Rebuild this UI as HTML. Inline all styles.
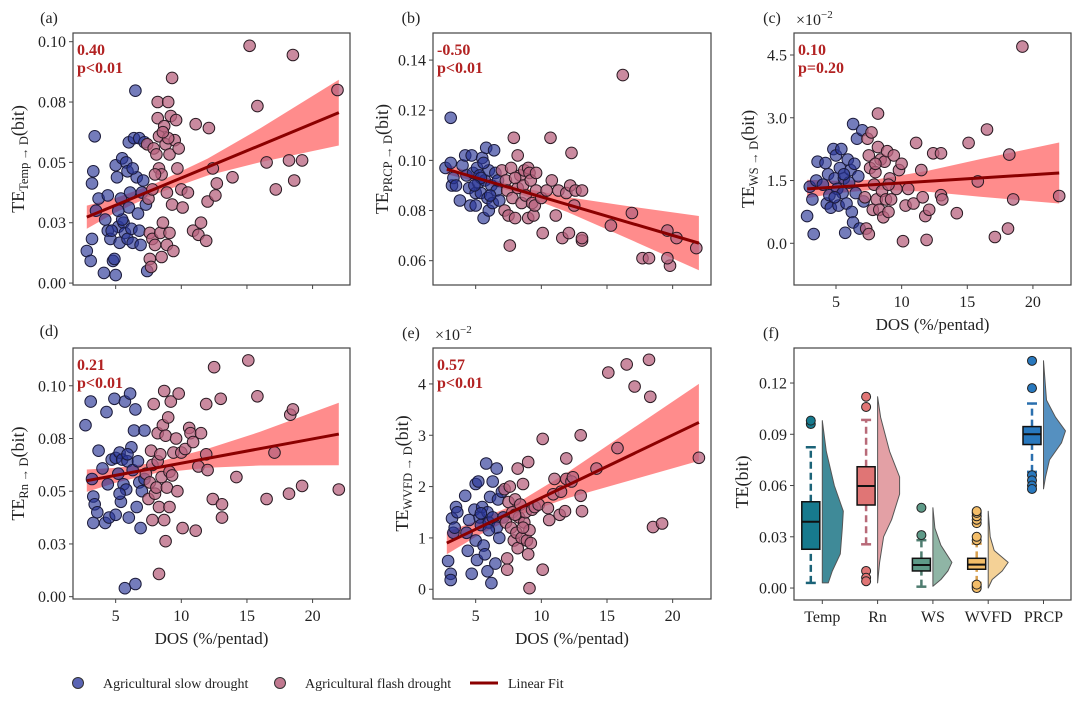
<!DOCTYPE html>
<html><head><meta charset="utf-8">
<style>
html,body{margin:0;padding:0;background:#fff;}
svg{display:block;font-family:"Liberation Serif",serif;}
</style></head>
<body>
<svg id="fig" width="1080" height="706" viewBox="0 0 1080 706" xmlns="http://www.w3.org/2000/svg">
<rect x="0" y="0" width="1080" height="706" fill="#fff"/>
<g>
  <circle cx="78" cy="683" r="5.5" fill="#5a64b4" stroke="#333" stroke-width="1"/>
  <text x="103" y="688" font-size="14" fill="#222">Agricultural slow drought</text>
  <circle cx="280" cy="683" r="5.5" fill="#c0788f" stroke="#333" stroke-width="1"/>
  <text x="305" y="688" font-size="14" fill="#222">Agricultural flash drought</text>
  <line x1="470" y1="683" x2="498" y2="683" stroke="#8b0000" stroke-width="3"/>
  <text x="508" y="688" font-size="14" fill="#222">Linear Fit</text>
</g>
</svg>
<script>
// ---------- data ----------
const fitX = [2.8, 22];
const ciKnotX = [2.8, 5, 8, 12, 16, 22];
const xTicks = [5, 10, 15, 20];
const xTickLabels = ['5', '10', '15', '20'];

const aSlow = [[2.8,0.0133],[3.1,0.0092],[3.2,0.0183],[3.3,0.0463],[3.2,0.0413],[3.4,0.0608],[3.5,0.030],[3.7,0.035],[4.1,0.0042],[4.2,0.0263],[4.4,0.0363],[4.4,0.0217],[4.6,0.0183],[4.8,0.0092],[4.9,0.010],[5.0,0.0033],[5.0,0.0488],[5.1,0.0438],[5.2,0.0233],[5.3,0.0167],[5.4,0.035],[5.5,0.0517],[5.6,0.025],[5.7,0.0208],[5.8,0.050],[5.9,0.0183],[6.0,0.0583],[6.0,0.0313],[6.1,0.0375],[6.2,0.0225],[6.3,0.0167],[6.4,0.060],[6.5,0.0797],[6.6,0.0438],[6.7,0.0288],[6.8,0.0217],[6.9,0.0158],[6.8,0.060],[7.0,0.0375],[7.1,0.0425],[7.2,0.0583],[7.3,0.0325],[7.4,0.005],[5.5,0.0263],[5.9,0.0463],[6.3,0.0475],[5.2,0.030],[4.7,0.0217]];
const aFlash = [[7.4,0.0575],[7.5,0.035],[7.6,0.0208],[7.6,0.010],[7.7,0.0067],[7.8,0.0183],[7.8,0.0388],[7.9,0.0558],[8.0,0.0158],[8.1,0.0533],[8.2,0.075],[8.2,0.0683],[8.3,0.0475],[8.3,0.0608],[8.4,0.0208],[8.5,0.0108],[8.5,0.045],[8.6,0.025],[8.7,0.065],[8.8,0.0575],[8.9,0.0375],[8.9,0.0158],[9.0,0.075],[9.1,0.0208],[9.1,0.0533],[9.2,0.0692],[9.3,0.085],[9.3,0.0325],[9.4,0.0133],[9.5,0.0592],[9.6,0.0675],[9.7,0.0475],[9.8,0.0558],[10.0,0.0388],[10.1,0.0313],[10.5,0.0375],[10.9,0.0217],[11.1,0.0658],[11.3,0.020],[11.5,0.025],[11.9,0.0175],[12.0,0.0338],[12.1,0.0642],[12.4,0.0475],[12.6,0.0363],[12.7,0.0413],[13.9,0.0438],[15.2,0.0983],[15.8,0.0733],[16.5,0.050],[17.2,0.0388],[18.2,0.0508],[18.5,0.0945],[18.6,0.0425],[19.2,0.0508],[21.9,0.080],[9.0,0.060],[8.0,0.045],[8.6,0.0625]];
const aFitY = [0.0273, 0.0706];
const aCiHalf = [0.0048,0.003,0.0022,0.0035,0.007,0.0136];
const aTicks = [0,0.025,0.05,0.075,0.1];
const aTickLabels = ['0.00','0.03','0.05','0.08','0.10'];

const bSlow = [[2.7,0.097],[3.1,0.117],[3.1,0.099],[3.2,0.090],[3.3,0.093],[3.5,0.090],[3.8,0.084],[4.0,0.098],[4.2,0.102],[4.3,0.094],[4.5,0.089],[4.6,0.082],[4.7,0.102],[4.8,0.095],[5.0,0.087],[5.0,0.082],[5.1,0.097],[5.2,0.091],[5.3,0.094],[5.4,0.087],[5.5,0.101],[5.6,0.077],[5.7,0.092],[5.8,0.105],[5.9,0.085],[6.0,0.096],[6.0,0.080],[6.2,0.090],[6.3,0.083],[6.4,0.104],[6.5,0.095],[6.6,0.088],[6.7,0.092],[6.8,0.084],[5.4,0.093],[4.9,0.090],[6.1,0.086],[5.6,0.099]];
const bFlash = [[7.0,0.096],[7.2,0.080],[7.3,0.092],[7.4,0.088],[7.5,0.078],[7.6,0.066],[7.7,0.097],[7.8,0.085],[7.9,0.109],[8.0,0.077],[8.2,0.102],[8.2,0.089],[8.4,0.094],[8.5,0.083],[8.6,0.090],[8.7,0.096],[8.8,0.086],[9.0,0.077],[9.0,0.097],[9.1,0.095],[9.2,0.092],[9.3,0.083],[9.4,0.078],[9.5,0.082],[9.6,0.088],[10.0,0.085],[10.1,0.071],[10.4,0.088],[10.7,0.109],[10.8,0.092],[11.1,0.078],[11.3,0.088],[11.6,0.069],[11.9,0.087],[12.1,0.071],[12.2,0.090],[12.3,0.103],[12.5,0.082],[12.6,0.088],[13.1,0.068],[13.1,0.069],[13.1,0.088],[15.3,0.074],[16.2,0.134],[16.9,0.079],[17.7,0.061],[18.2,0.061],[19.6,0.072],[19.8,0.058],[19.6,0.061],[20.3,0.069],[21.8,0.065],[8.0,0.093],[9.6,0.095]];
const bFitY = [0.0965, 0.067];
const bCiHalf = [0.002,0.0015,0.0012,0.003,0.006,0.0108];
const bTicks = [0.06,0.08,0.10,0.12,0.14];
const bTickLabels = ['0.06','0.08','0.10','0.12','0.14'];

const cSlow = [[2.8,0.65],[3.0,1.35],[3.2,1.05],[3.3,0.22],[3.5,1.50],[3.6,1.95],[4.0,1.40],[4.2,1.92],[4.3,0.95],[4.4,1.65],[4.5,1.15],[4.6,0.85],[4.8,2.25],[4.9,1.55],[5.0,2.10],[5.1,1.30],[5.2,0.90],[5.3,1.80],[5.4,2.25],[5.5,1.20],[5.6,1.55],[5.7,0.25],[5.8,0.95],[5.9,2.00],[6.0,1.45],[6.1,1.75],[6.2,0.75],[6.3,2.85],[6.3,0.50],[6.4,1.90],[6.5,1.20],[6.6,2.50],[6.7,1.60],[6.8,0.35],[7.0,2.70],[7.1,1.00],[5.6,1.65],[4.9,1.10]];
const cFlash = [[7.2,1.10],[7.3,0.35],[7.4,2.50],[7.5,0.22],[7.5,2.10],[7.6,1.80],[7.7,2.65],[7.8,0.80],[7.9,1.40],[8.0,1.70],[8.1,1.05],[8.2,3.10],[8.2,2.30],[8.3,0.80],[8.4,2.00],[8.5,1.25],[8.6,0.62],[8.7,1.95],[8.8,1.05],[8.9,2.20],[9.0,0.75],[9.1,1.55],[9.2,1.05],[9.4,2.10],[9.6,1.30],[9.8,1.75],[10.0,1.90],[10.1,0.05],[10.3,0.90],[10.5,1.30],[10.9,0.95],[11.1,2.40],[11.5,1.75],[11.6,1.10],[11.8,0.65],[11.9,0.08],[12.1,0.80],[12.4,2.15],[13.0,2.15],[13.0,1.15],[13.1,1.05],[14.2,0.72],[15.1,2.40],[15.8,1.48],[16.5,2.72],[17.1,0.15],[18.1,0.35],[18.2,2.12],[18.5,1.05],[22.0,1.13],[9.0,1.40],[8.0,1.90],[19.2,4.70]];
const cFitY = [1.30, 1.68];
const cCiHalf = [0.22,0.15,0.12,0.25,0.45,0.73];
const cTicks = [0,1.5,3.0,4.5];
const cTickLabels = ['0.0','1.5','3.0','4.5'];

const dSlow = [[2.7,0.0813],[3.1,0.0925],[3.2,0.0558],[3.3,0.0475],[3.3,0.035],[3.4,0.0438],[3.6,0.040],[3.7,0.0692],[4.0,0.0608],[4.2,0.035],[4.3,0.0875],[4.4,0.0533],[4.5,0.0375],[4.7,0.065],[4.9,0.0938],[5.0,0.0658],[5.0,0.0388],[5.2,0.0583],[5.3,0.0683],[5.4,0.045],[5.5,0.065],[5.6,0.0533],[5.7,0.0925],[5.7,0.004],[5.8,0.0508],[5.9,0.0642],[6.0,0.0375],[6.1,0.0963],[6.2,0.0708],[6.3,0.060],[6.4,0.0788],[6.5,0.0888],[6.5,0.006],[6.6,0.0425],[6.7,0.0642],[6.8,0.0542],[6.9,0.0325],[7.0,0.050],[7.2,0.0788],[7.2,0.0558],[5.9,0.0675],[5.3,0.0488]];
const dFlash = [[7.3,0.0583],[7.5,0.0463],[7.6,0.0542],[7.7,0.0692],[7.8,0.0363],[7.8,0.0625],[7.9,0.0913],[8.0,0.0488],[8.1,0.0517],[8.2,0.0642],[8.2,0.0775],[8.3,0.0108],[8.3,0.0425],[8.4,0.0675],[8.5,0.0567],[8.6,0.0813],[8.7,0.0975],[8.7,0.0363],[8.8,0.0263],[8.8,0.0763],[8.9,0.0517],[9.0,0.085],[9.1,0.0592],[9.1,0.0425],[9.2,0.0925],[9.3,0.0575],[9.4,0.0683],[9.6,0.075],[9.7,0.050],[9.8,0.0963],[10.0,0.0683],[10.1,0.0325],[10.3,0.070],[10.6,0.080],[10.7,0.0775],[10.9,0.0733],[11.1,0.0313],[11.3,0.0617],[11.5,0.0775],[11.9,0.0913],[11.9,0.0675],[12.0,0.060],[12.4,0.0463],[12.5,0.1088],[13.0,0.0938],[13.1,0.0438],[13.1,0.0375],[14.2,0.0567],[15.1,0.112],[15.8,0.095],[16.5,0.0463],[17.1,0.0683],[18.2,0.0488],[18.3,0.0863],[18.5,0.0888],[19.2,0.0525],[22.0,0.0508]];
const dFitY = [0.055, 0.0771];
const dCiHalf = [0.0053,0.0035,0.0025,0.0045,0.008,0.0148];
const dTicks = [0,0.025,0.05,0.075,0.1];
const dTickLabels = ['0.00','0.03','0.05','0.08','0.10'];

const eSlow = [[2.9,0.55],[3.1,0.30],[3.1,0.18],[3.2,1.38],[3.3,1.10],[3.4,1.20],[3.5,1.60],[3.6,1.50],[4.2,1.82],[4.3,1.10],[4.4,0.75],[4.5,1.35],[4.7,0.30],[4.9,1.55],[5.0,0.95],[5.0,2.05],[5.1,0.57],[5.2,2.10],[5.3,1.40],[5.4,1.25],[5.5,1.60],[5.6,0.85],[5.7,0.68],[5.8,2.45],[5.9,1.50],[5.9,0.35],[6.0,1.30],[6.1,1.80],[6.2,0.12],[6.3,1.40],[6.3,2.10],[6.5,0.50],[6.6,2.35],[6.6,1.20],[6.7,1.75],[6.8,1.00],[7.0,1.90],[7.1,1.40],[5.4,1.48],[6.0,1.15]];
const eFlash = [[7.2,1.95],[7.3,1.30],[7.4,0.60],[7.4,0.38],[7.5,1.70],[7.6,2.00],[7.7,1.20],[7.8,1.50],[7.9,0.95],[8.0,1.75],[8.1,1.10],[8.2,0.80],[8.2,2.35],[8.3,1.40],[8.4,1.65],[8.5,1.00],[8.6,2.05],[8.7,1.30],[8.8,1.50],[8.9,0.95],[9.0,0.68],[9.0,2.48],[9.1,1.15],[9.1,0.02],[9.2,0.90],[9.3,1.55],[9.5,1.60],[9.8,1.65],[10.1,2.93],[10.1,0.38],[10.5,1.58],[10.6,1.35],[10.9,1.85],[11.0,2.15],[11.4,1.45],[11.5,1.90],[11.8,1.52],[11.9,2.55],[11.9,2.15],[12.3,2.10],[12.4,2.18],[13.0,3.00],[13.0,1.82],[13.1,1.52],[14.2,2.35],[15.1,4.22],[15.8,2.75],[16.5,4.38],[17.1,3.95],[18.2,4.47],[18.3,3.75],[18.5,1.21],[19.2,1.28],[22.0,2.56],[8.0,1.45],[8.6,1.20]];
const eFitY = [0.9, 3.25];
const eCiHalf = [0.22,0.15,0.12,0.25,0.45,0.75];
const eTicks = [0,1,2,3,4];
const eTickLabels = ['0','1','2','3','4'];

// panel f
const fCategories = ['Temp','Rn','WS','WVFD','PRCP'];
const fWhiskLow = [0.003,0.0256,0.0008,0.003,0.068];
const fQ1 = [0.0227,0.0486,0.010,0.011,0.084];
const fMedian = [0.0388,0.0597,0.0135,0.0137,0.090];
const fQ3 = [0.0505,0.071,0.0174,0.0174,0.0945];
const fWhiskHigh = [0.0824,0.0984,0.028,0.026,0.108];
const fOutliers = [[0.096,0.098],[0.106,0.112,0.010,0.006,0.004],[0.031,0.047],[0.028,0.030,0.038,0.040,0.042,0.044,0.045,0.001,0.0,0.002],[0.117,0.133,0.066,0.063,0.060,0.058]];
const fViolinY = [[0.003,0.01,0.02,0.035,0.045,0.06,0.08,0.098],[0.003,0.015,0.03,0.04,0.055,0.065,0.08,0.10,0.112],[0.001,0.005,0.01,0.015,0.025,0.035,0.047],[0.0,0.005,0.01,0.015,0.022,0.03,0.045],[0.058,0.065,0.075,0.085,0.092,0.10,0.11,0.133]];
const fViolinDensity = [[6,10,18,20,21,12,4,0],[0,2,6,14,22,22,12,3,0],[0,8,15,19,8,2,0],[0,4,14,20,6,2,0],[0,2,6,18,22,12,3,0]];
const fTicks = [0,0.03,0.06,0.09,0.12];
const fTickLabels = ['0.00','0.03','0.06','0.09','0.12'];

// ---------- drawing ----------
const NS = 'http://www.w3.org/2000/svg';
const svg = document.getElementById('fig');
function mk(tag, attrs, parent) {
  const e = document.createElementNS(NS, tag);
  for (const k in attrs) e.setAttribute(k, attrs[k]);
  (parent || svg).appendChild(e);
  return e;
}
function lerpAt(xs, ys, x) {
  if (x <= xs[0]) return ys[0];
  for (let i = 1; i < xs.length; i++) {
    if (x <= xs[i]) { const t = (x - xs[i-1]) / (xs[i] - xs[i-1]); return ys[i-1] + t * (ys[i] - ys[i-1]); }
  }
  return ys[ys.length - 1];
}

function scatterPanel(cfg) {
  const g = mk('g', {});
  
  
  const X = v => cfg.x0 + (v - cfg.xmin) / (cfg.xmax - cfg.xmin) * cfg.w;
  const Y = v => cfg.y0 + cfg.h - (v - cfg.ymin) / (cfg.ymax - cfg.ymin) * cfg.h;
  const clipId = 'clip-' + cfg.id;
  const cp = mk('clipPath', {id: clipId}, g);
  mk('rect', {x: cfg.x0, y: cfg.y0, width: cfg.w, height: cfg.h}, cp);
  const plot = mk('g', {'clip-path': 'url(#' + clipId + ')'}, g);
  
  
  const up = [], lo = [];
  ciKnotX.forEach((kx, i) => {
    const m = lerpAt(fitX, cfg.fit, kx);
    up.push(X(kx).toFixed(1) + ',' + Y(m + cfg.ci[i]).toFixed(1));
    lo.push(X(kx).toFixed(1) + ',' + Y(m - cfg.ci[i]).toFixed(1));
  });
  const band = mk('polygon', {points: up.concat(lo.reverse()).join(' '), fill: '#ff7f7f', opacity: '0.9'}, plot);
  
  
  cfg.slow.forEach(p => {
    const c = mk('circle', {cx: X(p[0]).toFixed(1), cy: Y(p[1]).toFixed(1), r: 5.8, fill: '#2a3596', 'fill-opacity': 0.65, stroke: '#1a1a3a', 'stroke-width': 1}, plot);
    
    
  });
  cfg.flash.forEach(p => {
    const c = mk('circle', {cx: X(p[0]).toFixed(1), cy: Y(p[1]).toFixed(1), r: 5.8, fill: '#b8637f', 'fill-opacity': 0.75, stroke: '#2a1a22', 'stroke-width': 1}, plot);
    
    
  });
  const fl = mk('line', {x1: X(fitX[0]), y1: Y(cfg.fit[0]), x2: X(fitX[1]), y2: Y(cfg.fit[1]), stroke: '#8b0000', 'stroke-width': 3}, plot);
  
  
  const frame = mk('rect', {x: cfg.x0, y: cfg.y0, width: cfg.w, height: cfg.h, fill: 'none', stroke: '#444', 'stroke-width': 1.2}, g);
  
  
  cfg.yt.forEach((v, i) => {
    const y = Y(v);
    const t = mk('line', {x1: cfg.x0 - 4, y1: y, x2: cfg.x0, y2: y, stroke: '#444', 'stroke-width': 1}, g);
    
    
    const l = mk('text', {x: cfg.x0 - 7, y: y + 5.5, 'font-size': 16, 'text-anchor': 'end', fill: '#222'}, g);
    l.textContent = cfg.ytl[i];
    
    
  });
  xTicks.forEach((v, i) => {
    const x = X(v);
    const t = mk('line', {x1: x, y1: cfg.y0 + cfg.h, x2: x, y2: cfg.y0 + cfg.h + 4, stroke: '#444', 'stroke-width': 1}, g);
    
    
    if (cfg.xlabels) {
      const l = mk('text', {x: x, y: cfg.y0 + cfg.h + 22, 'font-size': 16, 'text-anchor': 'middle', fill: '#222'}, g);
      l.textContent = xTickLabels[i];
      
      
    }
  });
  if (cfg.xlabels) {
    const xl = mk('text', {x: cfg.x0 + cfg.w / 2, y: cfg.y0 + cfg.h + 45, 'font-size': 17, 'text-anchor': 'middle', fill: '#222'}, g);
    xl.textContent = 'DOS (%/pentad)';
    
    
  }
  const yl = mk('text', {transform: 'translate(' + cfg.ylx + ',' + (cfg.y0 + cfg.h / 2) + ') rotate(-90)', 'font-size': 18, 'text-anchor': 'middle', fill: '#222'}, g);
  
  
  const t1 = mk('tspan', {}, yl); t1.textContent = 'TE';
  const t2 = mk('tspan', {'font-size': 12.5, dy: 4}, yl); t2.textContent = cfg.sub + '\u2009\u2192\u2009D';
  const t3 = mk('tspan', {dy: -4}, yl); t3.textContent = '(bit)';
  const a1 = mk('text', {x: cfg.x0 + 4, y: cfg.y0 + 22, 'font-size': 16, 'font-weight': 'bold', fill: '#b22222'}, g);
  a1.textContent = cfg.r;
  
  
  const a2 = mk('text', {x: cfg.x0 + 4, y: cfg.y0 + 40, 'font-size': 16, 'font-weight': 'bold', fill: '#b22222'}, g);
  a2.textContent = cfg.p;
  
  
  const pl = mk('text', {x: cfg.labx, y: cfg.laby, 'font-size': 16, 'text-anchor': 'middle', fill: '#222'}, g);
  pl.textContent = '(' + cfg.id + ')';
  
  
  if (cfg.mult) {
    const m = mk('text', {x: cfg.x0 + 2, y: cfg.y0 - 8, 'font-size': 16, fill: '#222'}, g);
    
    
    const m1 = mk('tspan', {}, m); m1.textContent = '\u00d710';
    const m2 = mk('tspan', {'font-size': 11, dy: -7}, m); m2.textContent = '\u22122';
  }
}

scatterPanel({id:'a', x0:73, y0:33, w:277, h:252, xmin:1.75, xmax:22.85, ymin:-0.0008, ymax:0.1036, slow:aSlow, flash:aFlash, fit:aFitY, ci:aCiHalf, yt:aTicks, ytl:aTickLabels, xlabels:false, ylx:24, sub:'Temp', r:'0.40', p:'p<0.01', labx:49, laby:23});
scatterPanel({id:'b', x0:433, y0:33, w:278, h:252, xmin:1.75, xmax:22.92, ymin:0.0503, ymax:0.1508, slow:bSlow, flash:bFlash, fit:bFitY, ci:bCiHalf, yt:bTicks, ytl:bTickLabels, xlabels:false, ylx:388, sub:'PRCP', r:'-0.50', p:'p<0.01', labx:411, laby:23});
scatterPanel({id:'c', x0:794, y0:33, w:277, h:252, xmin:1.80, xmax:22.90, ymin:-0.997, ymax:5.026, slow:cSlow, flash:cFlash, fit:cFitY, ci:cCiHalf, yt:cTicks, ytl:cTickLabels, xlabels:true, ylx:754, sub:'WS', r:'0.10', p:'p=0.20', labx:772, laby:23, mult:true});
scatterPanel({id:'d', x0:73, y0:348, w:277, h:251, xmin:1.75, xmax:22.85, ymin:-0.0011, ymax:0.1179, slow:dSlow, flash:dFlash, fit:dFitY, ci:dCiHalf, yt:dTicks, ytl:dTickLabels, xlabels:true, ylx:24, sub:'Rn', r:'0.21', p:'p<0.01', labx:49, laby:336});
scatterPanel({id:'e', x0:433, y0:348, w:278, h:251, xmin:1.75, xmax:22.92, ymin:-0.19, ymax:4.70, slow:eSlow, flash:eFlash, fit:eFitY, ci:eCiHalf, yt:eTicks, ytl:eTickLabels, xlabels:true, ylx:408, sub:'WVFD', r:'0.57', p:'p<0.01', labx:411, laby:338, mult:true});

// ---------- panel f ----------
(function(){
  const x0 = 794, y0 = 348, w = 277, h = 252, ymin = -0.007, ymax = 0.1405;
  const Y = v => y0 + h - (v - ymin) / (ymax - ymin) * h;
  const catX = i => 822.3 + i * 55.3;
  const boxColor = ['#177a8e','#e07575','#5e9a88','#f3bd68','#2878be'];
  const violColor = ['#3f8a98','#e3a0a5','#8fb5a5','#f4d196','#5590c0'];
  const whiskColor = ['#1b6378','#b86a78','#4f7d70','#d9a04e','#2a6fae'];
  const g = mk('g', {});
  
  
  fCategories.forEach((cat, i) => {
    const cx = catX(i);
    const bx = cx - 11.5;
    const ys = fViolinY[i], ds = fViolinDensity[i];
    let pts = [];
    ys.forEach((v, k) => pts.push((cx + ds[k]).toFixed(1) + ',' + Y(v).toFixed(1)));
    pts.push(cx + ',' + Y(ys[ys.length-1]).toFixed(1));
    pts.push(cx + ',' + Y(ys[0]).toFixed(1));
    const vi = mk('polygon', {points: pts.join(' '), fill: violColor[i], stroke: '#555', 'stroke-width': 1, 'stroke-linejoin': 'round'}, g);
    
    
    const wl = mk('line', {x1: bx, y1: Y(fWhiskLow[i]), x2: bx, y2: Y(fQ1[i]), stroke: whiskColor[i], 'stroke-width': 2.5, 'stroke-dasharray': '7,4'}, g);
    
    
    const wh = mk('line', {x1: bx, y1: Y(fQ3[i]), x2: bx, y2: Y(fWhiskHigh[i]), stroke: whiskColor[i], 'stroke-width': 2.5, 'stroke-dasharray': '7,4'}, g);
    
    
    [fWhiskLow[i], fWhiskHigh[i]].forEach(v => {
      const cap = mk('line', {x1: bx - 5, y1: Y(v), x2: bx + 5, y2: Y(v), stroke: whiskColor[i], 'stroke-width': 2.5}, g);
      
      
    });
    const bxr = mk('rect', {x: bx - 9, y: Y(fQ3[i]), width: 18, height: Y(fQ1[i]) - Y(fQ3[i]), fill: boxColor[i], stroke: '#111', 'stroke-width': 1.5}, g);
    
    
    const md = mk('line', {x1: bx - 9, y1: Y(fMedian[i]), x2: bx + 9, y2: Y(fMedian[i]), stroke: '#111', 'stroke-width': 2}, g);
    
    
    fOutliers[i].forEach(v => {
      const o = mk('circle', {cx: bx, cy: Y(v), r: 4.5, fill: boxColor[i], stroke: '#222', 'stroke-width': 1}, g);
      
      
    });
    const t = mk('line', {x1: cx, y1: y0 + h, x2: cx, y2: y0 + h + 4, stroke: '#444', 'stroke-width': 1}, g);
    
    
    const l = mk('text', {x: cx, y: y0 + h + 22, 'font-size': 16, 'text-anchor': 'middle', fill: '#222'}, g);
    l.textContent = cat;
    
    
  });
  const frame = mk('rect', {x: x0, y: y0, width: w, height: h, fill: 'none', stroke: '#444', 'stroke-width': 1.2}, g);
  
  
  fTicks.forEach((v, i) => {
    const y = Y(v);
    const t = mk('line', {x1: x0 - 4, y1: y, x2: x0, y2: y, stroke: '#444', 'stroke-width': 1}, g);
    
    
    const l = mk('text', {x: x0 - 7, y: y + 5.5, 'font-size': 16, 'text-anchor': 'end', fill: '#222'}, g);
    l.textContent = fTickLabels[i];
    
    
  });
  const yl = mk('text', {transform: 'translate(748,' + (y0 + h / 2 + 8) + ') rotate(-90)', 'font-size': 18, 'text-anchor': 'middle', fill: '#222'}, g);
  yl.textContent = 'TE(bit)';
  
  
  const pl = mk('text', {x: 771, y: 338, 'font-size': 16, 'text-anchor': 'middle', fill: '#222'}, g);
  pl.textContent = '(f)';
  
  
})();
</script>
</body></html>
